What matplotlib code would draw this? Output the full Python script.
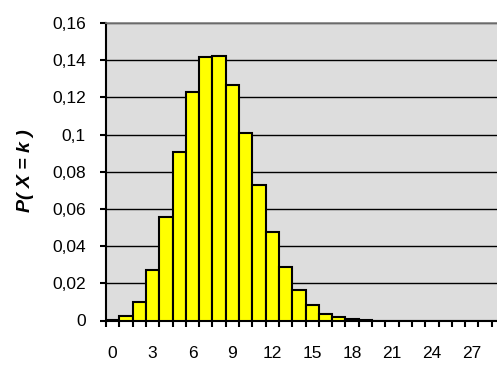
import numpy as np
import matplotlib
matplotlib.use("Agg")
import matplotlib.pyplot as plt

# --- data ---
k_values = list(range(30))
probs = [0.0005, 0.0025, 0.0098, 0.0272, 0.0556, 0.0906, 0.1230, 0.1417, 0.1424, 0.1267,
         0.1010, 0.0728, 0.0476, 0.0287, 0.0165, 0.0083, 0.0037, 0.0017, 0.0008, 0.0003,
         0, 0, 0, 0, 0, 0, 0, 0, 0, 0]
y_ticks = [0, 0.02, 0.04, 0.06, 0.08, 0.10, 0.12, 0.14, 0.16]
y_ticklabels = ['0', '0,02', '0,04', '0,06', '0,08', '0,1', '0,12', '0,14', '0,16']
x_ticklabels = [str(k) for k in range(0, 30, 3)]

plt.rcParams['font.family'] = ['Liberation Sans', 'DejaVu Sans']

W, H = 497, 374
fig = plt.figure(figsize=(W / 100, H / 100), dpi=100)
# plot area runs past the right edge of the picture, like the reference
ax = fig.add_axes([106 / W, 1 - 320.5 / H, (505 - 106) / W, (320.5 - 23) / H])
ax.set_facecolor('#dddddd')

ax.bar(k_values, probs, width=1.0, color='#ffff00', edgecolor='black', linewidth=1.5, zorder=3)

ax.set_xlim(-0.5, len(k_values) - 0.5)
ax.set_ylim(0, 0.16)

ax.set_yticks(y_ticks)
ax.set_yticklabels(y_ticklabels, fontsize=12.5)
ax.yaxis.grid(True, color='black', linewidth=1.0, zorder=1)
ax.set_axisbelow(True)

# ticks on category boundaries, labels every 3rd category
ax.set_xticks(np.arange(-0.5, len(k_values) + 0.5, 1.0))
ax.set_xticklabels([])
ax.set_xticks(range(0, 30, 3), minor=True)
ax.set_xticklabels(x_ticklabels, minor=True, fontsize=12.5)
ax.tick_params(axis='x', which='major', direction='out', length=4.5, width=1.5, color='black')
ax.tick_params(axis='x', which='minor', length=0, pad=18)
ax.tick_params(axis='y', direction='out', length=4.5, width=1.5, pad=10)

for side in ['left', 'bottom']:
    ax.spines[side].set_linewidth(1.5)
    ax.spines[side].set_color('black')
ax.spines['top'].set_color('#808080')
ax.spines['top'].set_linewidth(1.2)
ax.spines['right'].set_visible(False)

fig.text(26 / W, 1 - 171 / H, 'P( X = k )', rotation=90, ha='center', va='center',
         fontsize=14, fontweight='bold', fontstyle='italic')

fig.savefig('out.png', dpi=100)
